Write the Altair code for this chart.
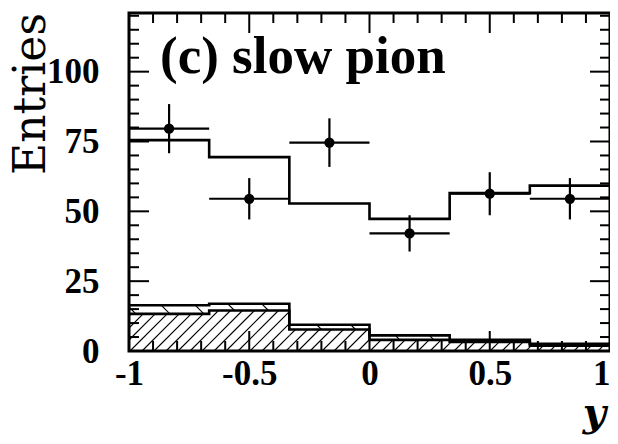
import altair as alt
import pandas as pd
import numpy as np

# ---------------- data ----------------
bin_edges = [-1.0, -2/3, -1/3, 0.0, 1/3, 2/3, 1.0]
data_vals = [79.6, 54.5, 74.6, 42.1, 56.3, 54.5]
data_errs = [8.8, 7.4, 8.7, 6.5, 7.7, 7.4]
mc_vals = [75.5, 69.4, 52.8, 47.3, 56.5, 59.2]
bkg_total = [16.4, 16.9, 9.4, 5.6, 4.0, 2.6]
bkg_inner = [13.3, 14.5, 7.7, 4.0, 3.2, 1.9]
y_ticks = [0, 25, 50, 75, 100]
x_ticks = [-1, -0.5, 0, 0.5, 1]
title_text = "(c) slow pion"
y_title = "Entries"
x_title = "y"

# ---------------- geometry / style ----------------
W, H = 481, 338
YMAX = 121.0
PXX = W / 2.0
PXY = H / YMAX

xs = alt.Scale(domain=[-1, 1], nice=False, zero=False)
ys = alt.Scale(domain=[0, YMAX], nice=False, zero=False)

x_axis = alt.Axis(values=x_ticks, ticks=False, domain=False, grid=False, title=None,
                  labelFont="Liberation Serif", labelFontWeight="bold", labelFontSize=35,
                  labelColor="black", labelPadding=5, labelFlush=False, labelOverlap=False,
                  labelBound=False,
                  labelAlign={"condition": {"test": "datum.value == 1", "value": "right"},
                              "value": "center"},
                  labelExpr="datum.value < 0 ? '-' + format(-datum.value, '~g') : format(datum.value, '~g')")
y_axis = alt.Axis(values=y_ticks, ticks=False, domain=False, grid=False, title=None,
                  labelFont="Liberation Serif", labelFontWeight="bold", labelFontSize=35,
                  labelColor="black", labelPadding=30, labelOverlap=False, labelBound=False,
                  format="d")


def X(field):
    return alt.X(field, type="quantitative", scale=xs, axis=x_axis)


def Y(field):
    return alt.Y(field, type="quantitative", scale=ys, axis=y_axis)


def step_df(vals):
    return pd.DataFrame({"x": bin_edges, "y": list(vals) + [vals[-1]]})


# hatch segments (decoration derived from the background histogram values)
def hatch_fwd(lo_vals, hi_vals, spacing, offset=0.0):
    rows = []
    for c in np.arange(-H - spacing + offset, W + spacing, spacing):
        for i in range(6):
            X0 = (bin_edges[i] + 1) * PXX
            X1 = (bin_edges[i + 1] + 1) * PXX
            ylo = lo_vals[i] * PXY
            yhi = hi_vals[i] * PXY
            a = max(X0, c + ylo)
            b = min(X1, c + yhi)
            if b > a:
                rows.append({"x": a / PXX - 1, "y": (a - c) / PXY,
                             "x2": b / PXX - 1, "y2": (b - c) / PXY})
    return pd.DataFrame(rows)


def hatch_back(lo_vals, hi_vals, spacing, offset=0.0):
    rows = []
    for c in np.arange(offset, W + H + spacing, spacing):
        for i in range(6):
            X0 = (bin_edges[i] + 1) * PXX
            X1 = (bin_edges[i + 1] + 1) * PXX
            ylo = lo_vals[i] * PXY
            yhi = hi_vals[i] * PXY
            a = max(X0, c - yhi)
            b = min(X1, c - ylo)
            if b > a:
                rows.append({"x": a / PXX - 1, "y": (c - a) / PXY,
                             "x2": b / PXX - 1, "y2": (c - b) / PXY})
    return pd.DataFrame(rows)


zeros = [0.0] * 6
hatch_in = hatch_fwd(zeros, bkg_inner, 12.0, 3.0)
hatch_up = hatch_back(bkg_inner, bkg_total, 34.0, 10.0)

layers = []

layers.append(alt.Chart(hatch_in).mark_rule(color="black", strokeWidth=1.1).encode(
    x=X("x"), y=Y("y"), x2="x2", y2="y2"))
layers.append(alt.Chart(hatch_up).mark_rule(color="black", strokeWidth=1.1).encode(
    x=X("x"), y=Y("y"), x2="x2", y2="y2"))

for vals in (bkg_inner, bkg_total, mc_vals):
    layers.append(alt.Chart(step_df(vals)).mark_line(
        interpolate="step-after", color="black", strokeWidth=2.6).encode(
        x=X("x"), y=Y("y")))

centers = [(bin_edges[i] + bin_edges[i + 1]) / 2 for i in range(6)]
pts = pd.DataFrame({
    "xc": centers,
    "xlo": bin_edges[:-1],
    "xhi": bin_edges[1:],
    "v": data_vals,
    "lo": [v - e for v, e in zip(data_vals, data_errs)],
    "hi": [v + e for v, e in zip(data_vals, data_errs)],
})
layers.append(alt.Chart(pts).mark_rule(color="black", strokeWidth=2.2).encode(
    x=X("xlo"), x2="xhi", y=Y("v")))
layers.append(alt.Chart(pts).mark_rule(color="black", strokeWidth=2.2).encode(
    x=X("xc"), y=Y("lo"), y2="hi"))
layers.append(alt.Chart(pts).mark_circle(color="black", size=105, opacity=1).encode(
    x=X("xc"), y=Y("v")))

# inward ticks on all four sides
y_minor = pd.DataFrame({"t": [v for v in range(5, 121, 5) if v % 25 != 0]})
y_major = pd.DataFrame({"t": [v for v in y_ticks if v > 0]})
xm = [round(v, 2) for v in np.arange(-0.9, 0.95, 0.1)]
x_minor = pd.DataFrame({"t": [v for v in xm if abs(v * 2 - round(v * 2)) > 1e-6]})
x_major = pd.DataFrame({"t": [v for v in x_ticks if -1 < v < 1]})

for df, ln in ((y_minor, 10), (y_major, 20)):
    layers.append(alt.Chart(df).mark_rule(color="black", strokeWidth=2).encode(
        y=Y("t"), x=alt.value(0), x2=alt.value(ln)))
    layers.append(alt.Chart(df).mark_rule(color="black", strokeWidth=2).encode(
        y=Y("t"), x=alt.value(W - ln), x2=alt.value(W)))
for df, ln in ((x_minor, 10), (x_major, 20)):
    layers.append(alt.Chart(df).mark_rule(color="black", strokeWidth=2).encode(
        x=X("t"), y=alt.value(H), y2=alt.value(H - ln)))
    layers.append(alt.Chart(df).mark_rule(color="black", strokeWidth=2).encode(
        x=X("t"), y=alt.value(0), y2=alt.value(ln)))

# texts
layers.append(alt.Chart(pd.DataFrame({"t": [title_text]})).mark_text(
    font="Liberation Serif", fontWeight="bold", fontSize=53, align="left",
    baseline="alphabetic", color="black").encode(
    text="t:N", x=alt.value(31), y=alt.value(60)))
layers.append(alt.Chart(pd.DataFrame({"t": [y_title]})).mark_text(
    font="DejaVu Serif", fontSize=44, align="right", baseline="alphabetic",
    angle=270, color="black").encode(
    text="t:N", x=alt.value(-84), y=alt.value(0)))
layers.append(alt.Chart(pd.DataFrame({"t": [x_title]})).mark_text(
    font="DejaVu Serif", fontWeight="bold", fontStyle="italic", fontSize=40,
    align="right", baseline="alphabetic", color="black").encode(
    text="t:N", x=alt.value(W - 4), y=alt.value(413)))

chart = alt.layer(*layers).properties(
    width=W, height=H,
    autosize=alt.AutoSizeParams(type="none"),
    padding={"left": 121, "top": 5, "right": 0, "bottom": 85},
    background="white",
).configure_view(stroke="black", strokeWidth=3)

chart.save("out.html", embed_options={"renderer": "svg", "actions": False})
